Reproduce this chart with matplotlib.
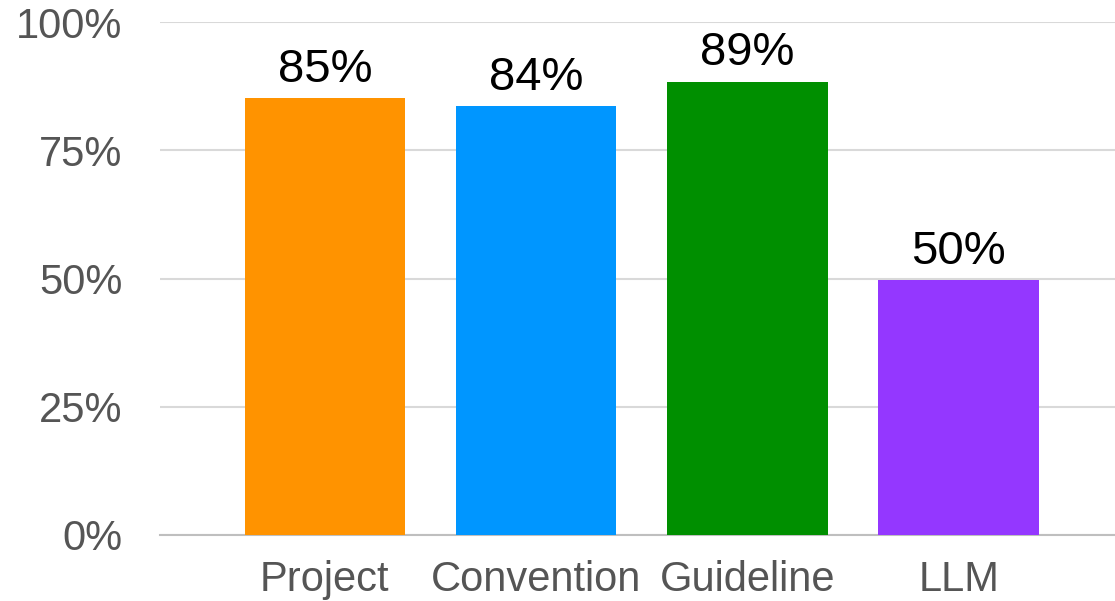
import matplotlib
matplotlib.use('Agg')
import matplotlib.pyplot as plt
import numpy as np

plt.rcParams['font.family'] = ['Liberation Sans', 'DejaVu Sans']

categories = ['Project', 'Convention', 'Guideline', 'LLM']
values = [85.2, 83.6, 88.4, 49.7]
value_labels = ['85%', '84%', '89%', '50%']
colors = ['#FF9300', '#0096FF', '#008F00', '#9437FF']
y_ticks = [0, 25, 50, 75, 100]

fig = plt.figure(figsize=(11.15, 6.01), dpi=100)
ax = fig.add_axes([160 / 1115, 1 - 535 / 601, (1115 - 160) / 1115, 513 / 601])

x = np.arange(len(categories))
ax.bar(x, values, width=0.76, color=colors, zorder=3)

for i, v in enumerate(values):
    ax.text(i, v + 1.2, value_labels[i], ha='center', va='bottom', fontsize=34, color='black')

ax.set_xlim(-0.78, 3.74)
ax.set_ylim(0, 100)
ax.set_yticks(y_ticks)
ax.set_yticklabels(['%d%%' % t for t in y_ticks])
ax.set_xticks(x)
ax.set_xticklabels(categories)
ax.tick_params(axis='y', length=0, pad=27, labelsize=30, labelcolor='#555555')
ax.tick_params(axis='x', length=0, pad=18, labelsize=30, labelcolor='#555555')

ax.grid(axis='y', color='#d9d9d9', linewidth=1.5, zorder=0)
for s in ['top', 'right', 'left']:
    ax.spines[s].set_visible(False)
ax.spines['bottom'].set_color('#bfbfbf')
ax.spines['bottom'].set_linewidth(1.5)

plt.savefig('out.png', dpi=100)
